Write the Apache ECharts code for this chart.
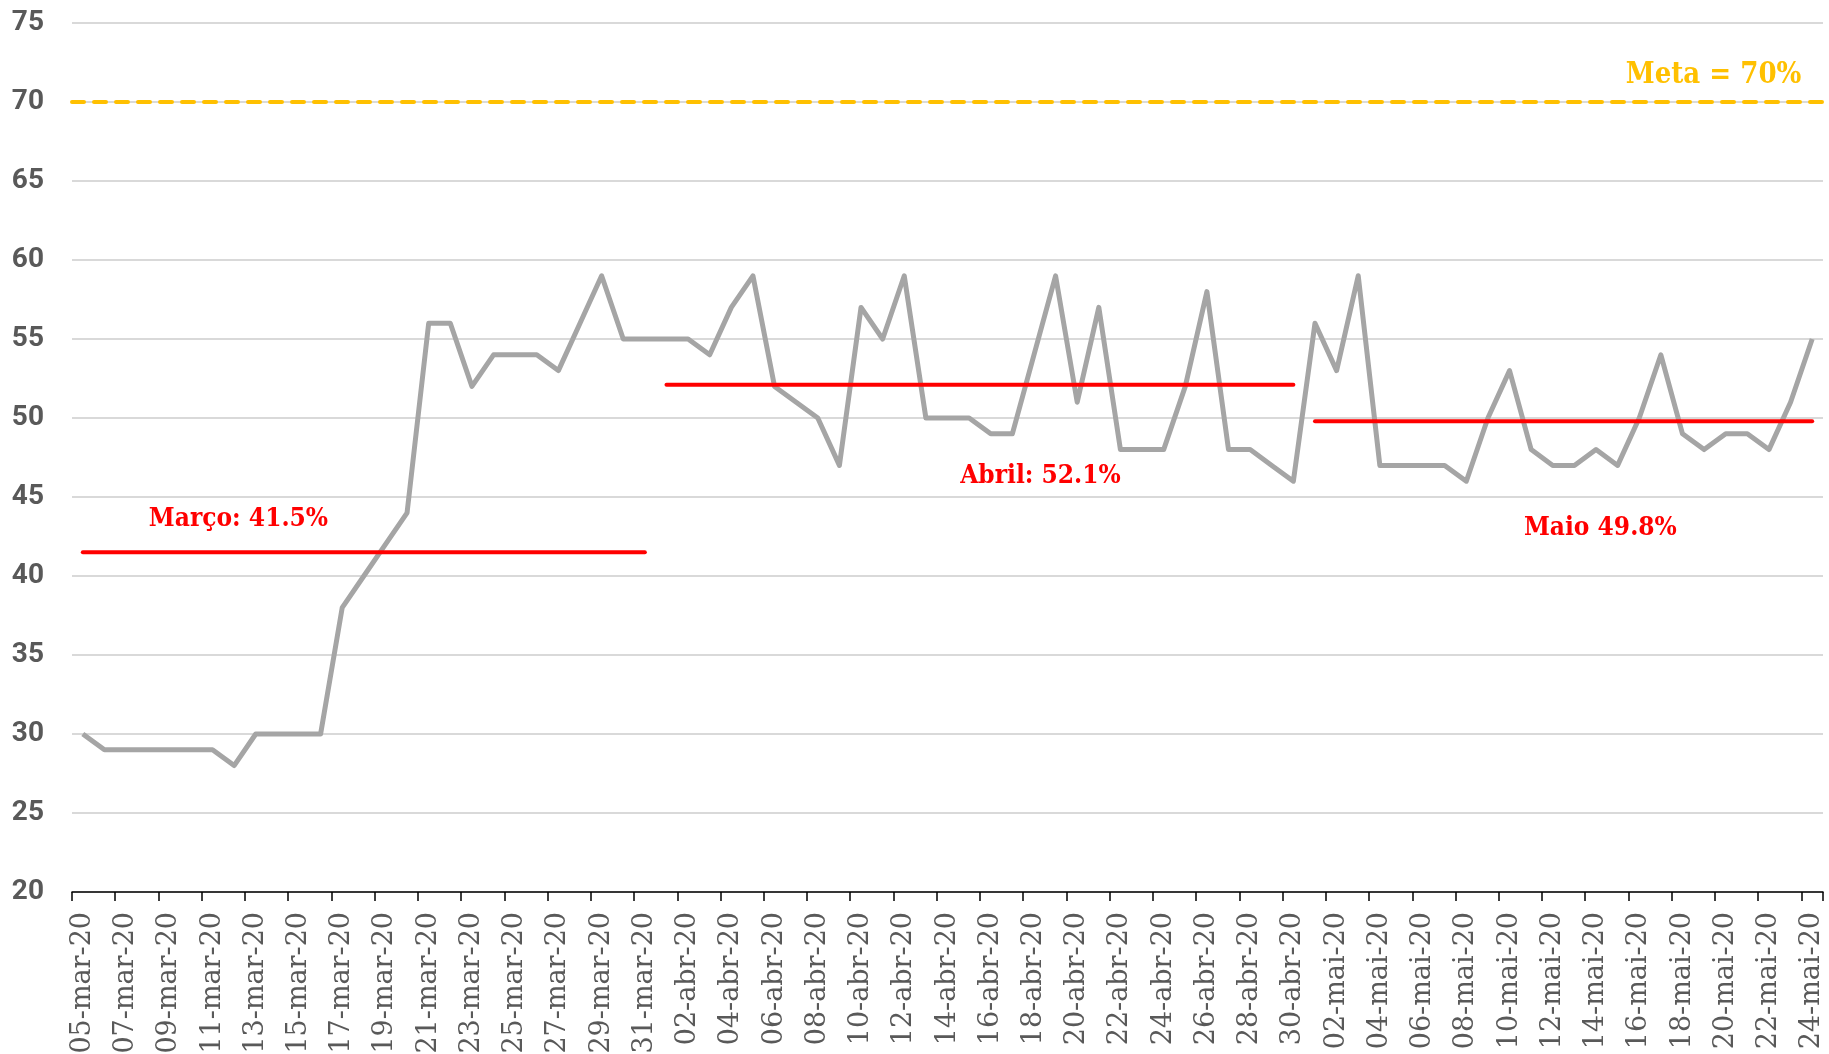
<!DOCTYPE html>
<html>
<head>
<meta charset="utf-8">
<script src="https://cdn.jsdelivr.net/npm/echarts@6/dist/echarts.min.js"></script>
<style>
html,body{margin:0;padding:0;background:#fff;}
#chart{width:1829px;height:1054px;}
</style>
</head>
<body>
<div id="chart"></div>
<script>
const categories = [
 '05-mar-20','06-mar-20','07-mar-20','08-mar-20','09-mar-20','10-mar-20','11-mar-20','12-mar-20','13-mar-20','14-mar-20',
 '15-mar-20','16-mar-20','17-mar-20','18-mar-20','19-mar-20','20-mar-20','21-mar-20','22-mar-20','23-mar-20','24-mar-20',
 '25-mar-20','26-mar-20','27-mar-20','28-mar-20','29-mar-20','30-mar-20','31-mar-20',
 '01-abr-20','02-abr-20','03-abr-20','04-abr-20','05-abr-20','06-abr-20','07-abr-20','08-abr-20','09-abr-20','10-abr-20',
 '11-abr-20','12-abr-20','13-abr-20','14-abr-20','15-abr-20','16-abr-20','17-abr-20','18-abr-20','19-abr-20','20-abr-20',
 '21-abr-20','22-abr-20','23-abr-20','24-abr-20','25-abr-20','26-abr-20','27-abr-20','28-abr-20','29-abr-20','30-abr-20',
 '01-mai-20','02-mai-20','03-mai-20','04-mai-20','05-mai-20','06-mai-20','07-mai-20','08-mai-20','09-mai-20','10-mai-20',
 '11-mai-20','12-mai-20','13-mai-20','14-mai-20','15-mai-20','16-mai-20','17-mai-20','18-mai-20','19-mai-20','20-mai-20',
 '21-mai-20','22-mai-20','23-mai-20','24-mai-20'
];

const marchValues = [30,29,29,29,29,29,29,28,30,30,30,30,38,40,42,44,56,56,52,54,54,54,53,56,59,55,55];
const aprilValues = [55,55,54,57,59,52,51,50,47,57,55,59,50,50,50,49,49,54,59,51,57,48,48,48,52,58,48,48,47,46];
const mayValues   = [56,53,59,47,47,47,47,46,50,53,48,47,47,48,47,50,54,49,48,49,49,48,51,55];

const monthLabels   = ['Março: 41.5%','Abril: 52.1%','Maio 49.8%'];
const monthAverages = [41.5, 52.1, 49.8];
const monthStart    = ['05-mar-20','01-abr-20','01-mai-20'];
const monthEnd      = ['31-mar-20','30-abr-20','24-mai-20'];

const metaValue = 70;
const metaLabel = 'Meta = 70%';

const yTicks = [20,25,30,35,40,45,50,55,60,65,70,75];

// label anchor positions (category index, value) – layout only
const monthLabelAnchors = [[7.2, 43.6],[44.3, 46.3],[70.2, 43.0]];
const metaLabelAnchor = [79.5, 71.7];

const values = marchValues.concat(aprilValues, mayValues);

const chart = echarts.init(document.getElementById('chart'), null, {renderer:'canvas'});

const avgSeries = monthAverages.map((v, i) => ({
  type: 'line',
  name: monthLabels[i],
  data: [[categories.indexOf(monthStart[i]), v],[categories.indexOf(monthEnd[i]), v]],
  symbol: 'none',
  silent: true,
  z: 3,
  lineStyle: {color: '#FF0000', width: 4, cap: 'round'}
}));

const serifCond = "'DejaVu Serif Condensed', 'DejaVu Serif', serif";

chart.setOption({
  animation: false,
  backgroundColor: '#ffffff',
  grid: {left: 72, right: 6, top: 23, bottom: 162, containLabel: false, outerBoundsMode: 'none'},
  xAxis: {
    type: 'category',
    data: categories,
    boundaryGap: true,
    axisLine: {lineStyle: {color: '#000000', width: 1.5}},
    axisTick: {show: true, interval: 1, length: 9, lineStyle: {color: '#000000', width: 1.5}},
    axisLabel: {
      interval: 1, rotate: 90, margin: 20,
      color: '#595959', fontSize: 27, fontFamily: "'DejaVu Serif', serif"
    },
    splitLine: {show: false}
  },
  yAxis: {
    type: 'value',
    min: yTicks[0], max: yTicks[yTicks.length - 1], interval: 5,
    axisLine: {show: false},
    axisTick: {show: false},
    axisLabel: {color: '#595959', fontSize: 28, fontWeight: 'bold', fontFamily: 'Roboto', margin: 28},
    splitLine: {lineStyle: {color: '#D9D9D9', width: 2}}
  },
  series: [
    {
      type: 'line',
      name: 'Isolamento',
      data: values,
      symbol: 'none',
      z: 2,
      lineStyle: {color: '#A5A5A5', width: 5, join: 'round'},
      markLine: {
        silent: true,
        symbol: 'none',
        label: {show: false},
        lineStyle: {color: '#FFC000', width: 4, type: [12, 10], cap: 'round'},
        data: [{yAxis: metaValue}]
      }
    }
  ].concat(avgSeries)
});

function px(idx, val) {
  const i0 = Math.floor(idx), f = idx - i0;
  const a = chart.convertToPixel({gridIndex: 0}, [i0, val]);
  const b = chart.convertToPixel({gridIndex: 0}, [i0 + 1, val]);
  return [a[0] + f * (b[0] - a[0]), a[1]];
}

const graphics = monthLabels.map((t, i) => {
  const p = px(monthLabelAnchors[i][0], monthLabelAnchors[i][1]);
  return {
    type: 'text', x: p[0], y: p[1], z: 10,
    style: {text: t, fill: '#FF0000', fontSize: 26, fontWeight: 'bold', fontFamily: serifCond,
            align: 'center', verticalAlign: 'middle'}
  };
});
const mp = px(metaLabelAnchor[0], metaLabelAnchor[1]);
graphics.push({
  type: 'text', x: mp[0], y: mp[1], z: 10,
  style: {text: metaLabel, fill: '#FFC000', fontSize: 29, fontWeight: 'bold', fontFamily: serifCond,
          align: 'right', verticalAlign: 'middle'}
});
chart.setOption({graphic: graphics});
</script>
</body>
</html>
